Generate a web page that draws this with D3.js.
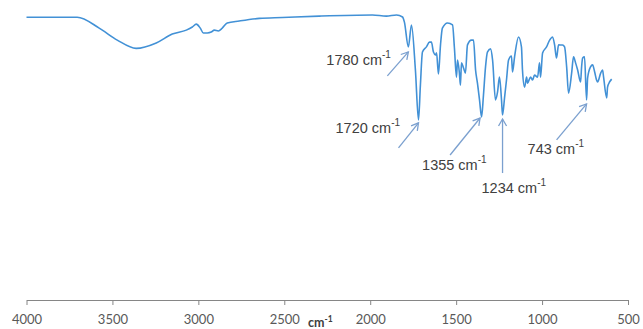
<!DOCTYPE html>
<html>
<head>
<meta charset="utf-8">
<script src="https://cdn.jsdelivr.net/npm/d3@7"></script>
<style>
  body { margin: 0; background: #fff; }
  svg { display: block; }
</style>
</head>
<body>
<div id="chart"></div>
<script>
// FTIR spectrum, wavenumber (cm-1) against transmittance (%)
var wavenumbers = [
  4000, 3705, 3577, 3472, 3362, 3245, 3152, 3070, 3035, 3012, 2989, 2971, 2948, 2925, 2907, 2884,
  2861, 2832, 2762, 2645, 2511, 2296, 1987, 1906, 1847, 1812, 1801, 1778, 1760, 1737, 1719, 1708,
  1696, 1673, 1655, 1644, 1632, 1620, 1614, 1603, 1591, 1580, 1550, 1521, 1510, 1498, 1492, 1481,
  1475, 1469, 1457, 1446, 1434, 1411, 1399, 1387, 1376, 1364, 1352, 1341, 1329, 1318, 1300, 1288,
  1271, 1259, 1248, 1236, 1230, 1218, 1207, 1195, 1178, 1172, 1160, 1137, 1120, 1114, 1102, 1090,
  1085, 1067, 1055, 1044, 1026, 1015, 1009, 997, 974, 956, 939, 927, 916, 904, 881, 869,
  857, 846, 828, 817, 805, 793, 776, 770, 764, 753, 741, 735, 718, 706, 694, 683,
  677, 659, 648, 642, 624, 619, 607, 595
]
var transmittance = [
  99.2, 99.2, 95.4, 91.2, 88.3, 90.2, 93.3, 94.7, 95.8, 96.8, 95.4, 93.7, 93.7, 94.0, 94.7, 94.4,
  95.4, 97.2, 97.9, 98.8, 99.1, 99.6, 100.0, 99.6, 100.0, 99.3, 97.5, 88.8, 96.5, 80.7, 63.2, 75.4,
  87.0, 88.8, 90.5, 90.5, 87.0, 86.0, 86.7, 79.3, 89.5, 95.4, 97.2, 96.5, 88.4, 78.2, 84.2, 79.6,
  75.4, 83.2, 81.4, 79.6, 89.5, 91.2, 91.2, 80.7, 76.1, 70.2, 64.2, 71.9, 81.8, 87.0, 88.1, 84.2,
  70.2, 73.0, 78.2, 70.2, 64.9, 71.2, 77.2, 84.2, 85.6, 80.0, 85.3, 92.3, 88.8, 80.7, 74.7, 78.2,
  76.1, 78.2, 77.2, 78.9, 78.2, 83.2, 78.2, 86.7, 88.8, 91.2, 92.3, 89.5, 84.9, 89.5, 89.5, 88.8,
  81.8, 72.6, 79.6, 85.3, 83.2, 80.7, 76.5, 81.8, 84.9, 85.3, 70.2, 77.9, 81.8, 82.5, 80.0, 77.2,
  76.5, 79.6, 80.7, 78.2, 70.9, 74.7, 76.5, 77.5
]
var tickValues = [4000, 3500, 3000, 2500, 2000, 1500, 1000, 500]
var axisTitle = "cm"

// labelled peaks: [wavenumber, label]
var peakWavenumbers = [1778, 1719, 1352, 1230, 741]
var peakLabels = ["1780", "1720", "1355", "1234", "743"]
// where the arrow sits relative to the peak: tip gap, tail and text offsets (px)
var arrowLayout = [
  { tip: [0, 5], tail: [-21, 24], text: [-82, 13] },
  { tip: [0, 3], tail: [-20, 25], text: [-83, 10] },
  { tip: [-1.5, 1], tail: [-30, 37], text: [-58, 52] },
  { tip: [0, 4], tail: [0, 54], text: [-21, 74] },
  { tip: [0, 4], tail: [-30, 36], text: [-59, 50] }
]

var width = 643, height = 329

var svg = d3.select("#chart").append("svg")
  .attr("width", width)
  .attr("height", height)

var x = d3.scaleLinear().domain([4000, 500]).range([26.5, 628])
var y = d3.scaleLinear().domain([0, 100]).range([300, 15])

var points = wavenumbers.map(function(w, i) { return [w, transmittance[i]] })

var line = d3.line()
  .x(function(d) { return x(d[0]) })
  .y(function(d) { return y(d[1]) })
  .curve(d3.curveMonotoneX)

svg.append("path")
  .datum(points)
  .attr("fill", "none")
  .attr("stroke", "#4291d6")
  .attr("stroke-width", 1.6)
  .attr("stroke-linejoin", "round")
  .attr("d", line)

// x axis
var axis = svg.append("g")
  .attr("transform", "translate(0," + y(0) + ")")
  .call(d3.axisBottom(x)
    .tickValues(tickValues)
    .tickFormat(d3.format("d"))
    .tickSizeInner(5)
    .tickSizeOuter(0)
    .tickPadding(10))

axis.select(".domain").attr("stroke", "#868686")
axis.selectAll(".tick line").attr("stroke", "#868686")
axis.selectAll(".tick text")
  .attr("fill", "#595959")
  .style("font-family", "Lato, 'Open Sans', sans-serif")
  .style("font-size", "13px")

var title = svg.append("text")
  .attr("x", 308)
  .attr("y", 326.5)
  .attr("fill", "#404040")
  .style("font-family", "Lato, 'Open Sans', sans-serif")
  .style("font-size", "12.5px")
  .style("font-weight", "bold")
title.append("tspan").text(axisTitle)
title.append("tspan").attr("dy", -5).style("font-size", "8.5px").text("-1")

// peak annotations
var annot = svg.append("g")

peakWavenumbers.forEach(function(w, i) {
  var k = wavenumbers.indexOf(w)
  var lay = arrowLayout[i]
  var tx = x(w) + lay.tip[0], ty = y(transmittance[k]) + lay.tip[1]
  var sx = tx + lay.tail[0], sy = ty + lay.tail[1]

  annot.append("line")
    .attr("x1", sx).attr("y1", sy)
    .attr("x2", tx).attr("y2", ty)
    .attr("stroke", "#7ba0cf")
    .attr("stroke-width", 1.3)

  // open arrow head
  var ang = Math.atan2(ty - sy, tx - sx), len = 8, spread = Math.PI / 6
  var head = [
    [tx - len * Math.cos(ang - spread), ty - len * Math.sin(ang - spread)],
    [tx, ty],
    [tx - len * Math.cos(ang + spread), ty - len * Math.sin(ang + spread)]
  ]
  annot.append("path")
    .attr("d", d3.line()(head))
    .attr("fill", "none")
    .attr("stroke", "#7ba0cf")
    .attr("stroke-width", 1.3)

  var t = annot.append("text")
    .attr("x", tx + lay.text[0])
    .attr("y", ty + lay.text[1])
    .attr("fill", "#404040")
    .style("font-family", "'Liberation Sans', Arial, sans-serif")
    .style("font-size", "14.5px")
  t.append("tspan").text(peakLabels[i] + " cm")
  t.append("tspan").attr("dy", -7).style("font-size", "10px").text("-1")
})
</script>
</body>
</html>
